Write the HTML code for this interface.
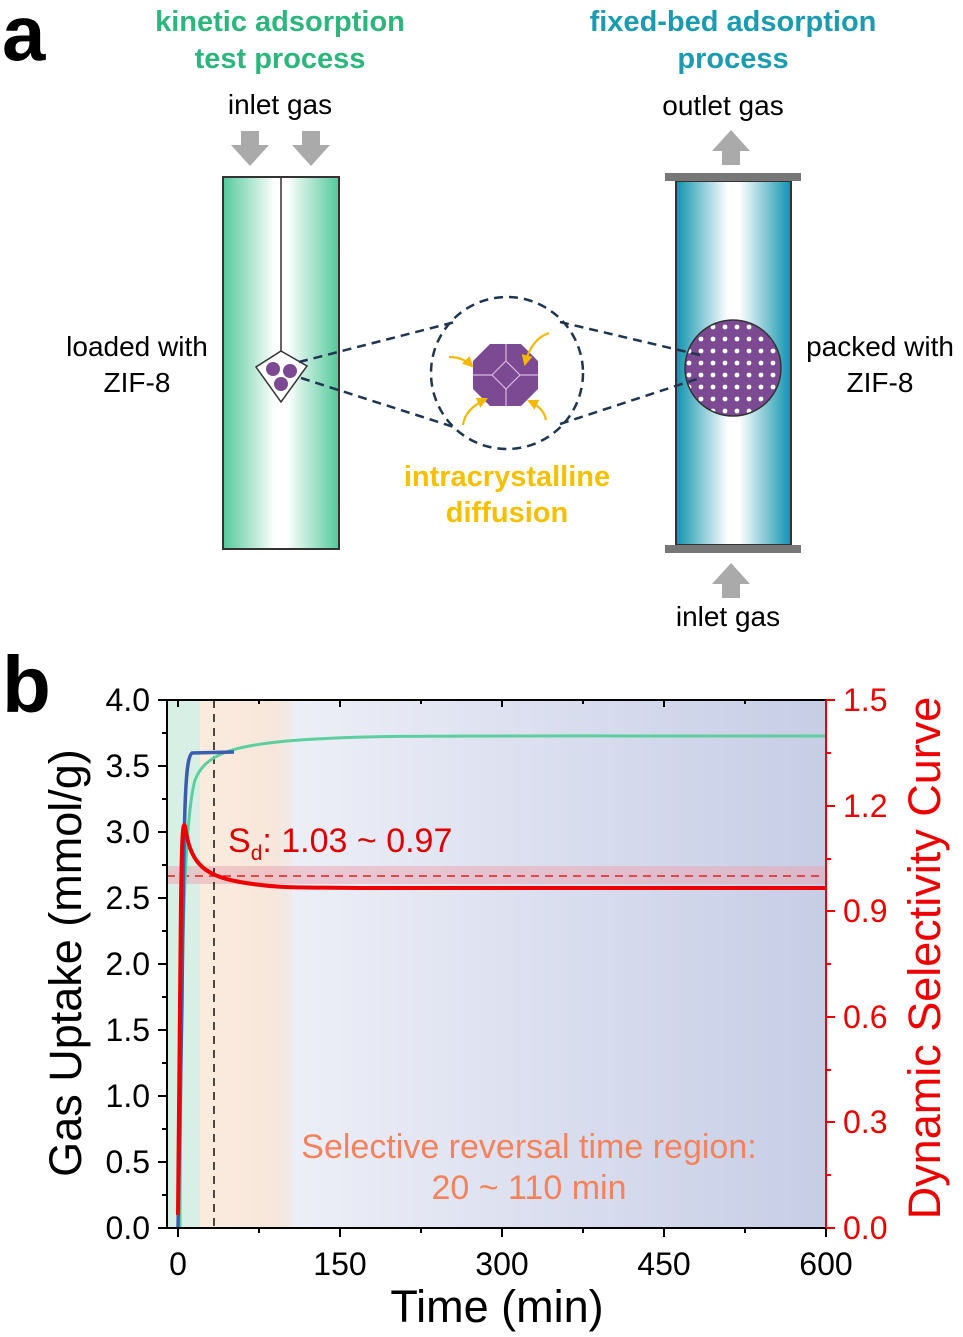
<!DOCTYPE html>
<html><head><meta charset="utf-8"><style>
html,body{margin:0;padding:0;background:#fff;}
svg{display:block;font-family:"Liberation Sans",Arial,sans-serif;}
</style></head><body>
<svg width="963" height="1337" viewBox="0 0 963 1337" xmlns="http://www.w3.org/2000/svg">
<defs>
<linearGradient id="gt" x1="0" x2="1"><stop offset="0" stop-color="#52c99a"/><stop offset="0.45" stop-color="#ffffff"/><stop offset="0.55" stop-color="#ffffff"/><stop offset="1" stop-color="#52c99a"/></linearGradient>
<linearGradient id="bt" x1="0" x2="1"><stop offset="0" stop-color="#0f93ad"/><stop offset="0.45" stop-color="#ffffff"/><stop offset="0.55" stop-color="#ffffff"/><stop offset="1" stop-color="#0f93ad"/></linearGradient>
<linearGradient id="bg" x1="0" x2="1"><stop offset="0" stop-color="#f6f7fb"/><stop offset="1" stop-color="#c6cde6"/></linearGradient>
<linearGradient id="og" x1="0" x2="1"><stop offset="0" stop-color="#fcebdc"/><stop offset="0.8" stop-color="#f8e6da"/><stop offset="1" stop-color="#f3e6e0" stop-opacity="0.6"/></linearGradient>
<clipPath id="dc"><circle cx="733" cy="368" r="48"/></clipPath>
<marker id="ah" viewBox="0 0 10 10" refX="8" refY="5" markerWidth="5" markerHeight="5" orient="auto"><path d="M0,0L10,5L0,10z" fill="#f5b800"/></marker>
</defs>

<!-- panel a -->
<text x="2" y="60" font-size="78" font-weight="bold">a</text>
<g font-weight="bold" font-size="29" text-anchor="middle">
<text x="280" y="31" fill="#2db67c">kinetic adsorption</text>
<text x="280" y="68" fill="#2db67c">test process</text>
<text x="733" y="31" fill="#1a9bb0">fixed-bed adsorption</text>
<text x="733" y="68" fill="#1a9bb0">process</text>
<text x="507" y="486" fill="#f5c000">intracrystalline</text>
<text x="507" y="522" fill="#f5c000">diffusion</text>
</g>
<g font-size="28" text-anchor="middle" fill="#000">
<text x="280" y="114">inlet gas</text>
<text x="723" y="115">outlet gas</text>
<text x="728" y="626">inlet gas</text>
<text x="137" y="356">loaded with</text>
<text x="137" y="392">ZIF-8</text>
<text x="880" y="356">packed with</text>
<text x="880" y="392">ZIF-8</text>
</g>
<!-- arrows -->
<g fill="#aaaaaa">
<path d="M241,131h18v14h10l-19,21l-19,-21h10z"/>
<path d="M302,131h18v14h10l-19,21l-19,-21h10z"/>
<path d="M722,165h18v-14h10l-19,-21l-19,21h10z"/>
<path d="M722,598h18v-14h10l-19,-21l-19,21h10z"/>
</g>
<!-- left tube -->
<rect x="223" y="177" width="116" height="372" fill="url(#gt)" stroke="#333" stroke-width="2"/>
<line x1="281" y1="177" x2="281" y2="352" stroke="#333" stroke-width="1.5"/>
<path d="M281,351L307,366L281,402L256,367Z" fill="#fff" stroke="#333" stroke-width="1.5"/>
<circle cx="273" cy="369" r="7" fill="#7b4a93"/><circle cx="290" cy="371" r="7" fill="#7b4a93"/><circle cx="281" cy="384" r="7" fill="#7b4a93"/>
<!-- right tube -->
<rect x="676" y="181" width="115" height="364" fill="url(#bt)" stroke="#333" stroke-width="2"/>
<rect x="665" y="173" width="136" height="8" fill="#777"/>
<rect x="665" y="545" width="136" height="8" fill="#777"/>
<circle cx="733" cy="368" r="48" fill="#7b4a93"/>
<g clip-path="url(#dc)" fill="#fff">
<g id="row">
<circle cx="689" cy="0" r="2.4"/><circle cx="701" cy="0" r="2.4"/><circle cx="713" cy="0" r="2.4"/><circle cx="725" cy="0" r="2.4"/><circle cx="737" cy="0" r="2.4"/><circle cx="749" cy="0" r="2.4"/><circle cx="761" cy="0" r="2.4"/><circle cx="773" cy="0" r="2.4"/>
</g>
<use href="#row" y="327"/><use href="#row" y="339"/><use href="#row" y="351"/><use href="#row" y="363"/><use href="#row" y="375"/><use href="#row" y="387"/><use href="#row" y="399"/><use href="#row" y="411"/>
</g>
<circle cx="733" cy="368" r="48" fill="none" stroke="#333" stroke-width="1.5"/>
<!-- zoom circle -->
<g stroke="#1f3550" stroke-width="2.5" stroke-dasharray="9,6" fill="none">
<circle cx="507" cy="373" r="76"/>
<line x1="299" y1="362" x2="455" y2="322"/>
<line x1="301" y1="378" x2="457" y2="428"/>
<line x1="560" y1="322" x2="700" y2="355"/>
<line x1="560" y1="424" x2="700" y2="378"/>
</g>
<path d="M490,344h31l17,17v28l-17,17h-31l-17,-17v-28z" fill="#7b4a93"/>
<g stroke="#d8b8e0" stroke-width="1.2" fill="none">
<path d="M506,361l14,14l-14,14l-14,-14z"/>
<path d="M506,344v17M506,389v17M473,375h19M520,375h18"/>
</g>
<g stroke="#f5b800" stroke-width="2.2" fill="none" marker-end="url(#ah)">
<path d="M449,357q14,0 23,9"/><path d="M549,333q-18,6 -24,31"/><path d="M463,425q2,-16 23,-26"/><path d="M546,420q-2,-12 -17,-19"/>
</g>

<!-- panel b -->
<text x="2" y="712" font-size="80" font-weight="bold">b</text>
<rect x="167" y="700" width="659" height="528" fill="url(#bg)"/>
<rect x="167" y="700" width="35" height="528" fill="#d8efe6"/>
<rect x="200" y="700" width="92" height="528" fill="url(#og)" opacity="0.95"/>
<rect x="167" y="866" width="659" height="18" fill="#e9a7b4" opacity="0.55"/>
<line x1="167" y1="876" x2="826" y2="876" stroke="#e02020" stroke-width="1.5" stroke-dasharray="8,6"/>
<line x1="214" y1="700" x2="214" y2="1228" stroke="#111" stroke-width="1.5" stroke-dasharray="8,6"/>
<!-- curves -->
<path d="M180,1228 C181,950 184,820 195,780 C205,755 230,745 300,740 S400,736 826,736" fill="none" stroke="#5ccf9e" stroke-width="3"/>
<path d="M178,1228 L182,1000 C184,800 185,758 192,753 L234,752" fill="none" stroke="#3a5db0" stroke-width="3.5"/>
<path d="M178,1215 L181,900 C182,830 183,822 185,826 C190,860 200,875 240,882 S300,887 360,888 L826,888" fill="none" stroke="#ee0000" stroke-width="4"/>
<text x="228" y="852" font-size="34" fill="#dd0000">S<tspan font-size="21" dy="8">d</tspan><tspan dy="-8">: 1.03 ~ 0.97</tspan></text>
<text x="529" y="1158" font-size="34" fill="#f5825a" text-anchor="middle">Selective reversal time region:</text>
<text x="529" y="1199" font-size="34" fill="#f5825a" text-anchor="middle">20 ~ 110 min</text>
<!-- axes -->
<rect x="167" y="700" width="659" height="528" fill="none" stroke="#000" stroke-width="2"/>
<line x1="826" y1="700" x2="826" y2="1228" stroke="#ee0000" stroke-width="2"/>
<g stroke="#000" stroke-width="2">
<path d="M167,700h-9M167,766h-9M167,832h-9M167,898h-9M167,964h-9M167,1030h-9M167,1096h-9M167,1162h-9M167,1228h-9"/>
<path d="M167,733h-5M167,799h-5M167,865h-5M167,931h-5M167,997h-5M167,1063h-5M167,1129h-5M167,1195h-5"/>
<path d="M178,1228v9M340,1228v9M502,1228v9M664,1228v9M826,1228v9M259,1228v5M421,1228v5M583,1228v5M745,1228v5"/>
<path d="M178,700v7M340,700v7M502,700v7M664,700v7M259,700v4M421,700v4M583,700v4M745,700v4"/>
</g>
<g stroke="#ee0000" stroke-width="2">
<path d="M826,700h9M826,806h9M826,911h9M826,1017h9M826,1122h9M826,1228h9M826,753h5M826,859h5M826,964h5M826,1070h5M826,1175h5"/>
</g>
<g font-size="32" text-anchor="end">
<text x="150" y="711">4.0</text><text x="150" y="777">3.5</text><text x="150" y="843">3.0</text><text x="150" y="909">2.5</text><text x="150" y="975">2.0</text><text x="150" y="1041">1.5</text><text x="150" y="1107">1.0</text><text x="150" y="1173">0.5</text><text x="150" y="1239">0.0</text>
</g>
<g font-size="32" fill="#ee0000">
<text x="843" y="711">1.5</text><text x="843" y="817">1.2</text><text x="843" y="922">0.9</text><text x="843" y="1028">0.6</text><text x="843" y="1133">0.3</text><text x="843" y="1239">0.0</text>
</g>
<g font-size="32" text-anchor="middle">
<text x="178" y="1275">0</text><text x="340" y="1275">150</text><text x="502" y="1275">300</text><text x="664" y="1275">450</text><text x="826" y="1275">600</text>
</g>
<text x="497" y="1322" font-size="45" text-anchor="middle">Time (min)</text>
<text transform="translate(81,963) rotate(-90)" font-size="45" text-anchor="middle">Gas Uptake (mmol/g)</text>
<text transform="translate(940,958) rotate(-90)" font-size="45" text-anchor="middle" fill="#ee0000">Dynamic Selectivity Curve</text>
</svg>
</body></html>
